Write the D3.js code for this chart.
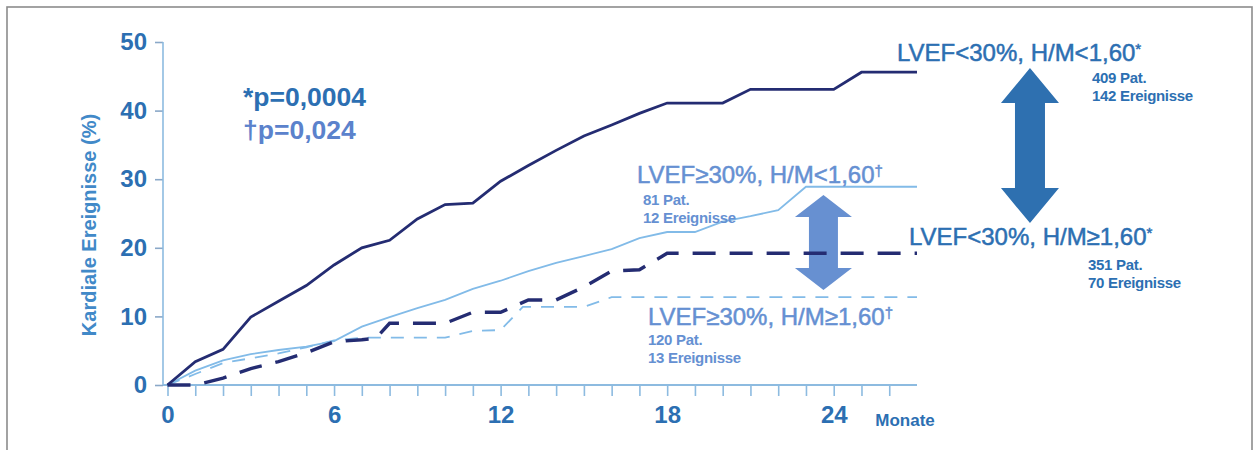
<!DOCTYPE html>
<html>
<head>
<meta charset="utf-8">
<script src="https://cdn.jsdelivr.net/npm/d3@7"></script>
<style>
  html, body { margin: 0; padding: 0; background: #fff; }
  svg { display: block; }
  text { font-family: "Liberation Sans", Arial, sans-serif; }
</style>
</head>
<body>
<svg id="chart" width="1254" height="450"></svg>
<script>
// Cumulative cardiac events (%) by month, per LVEF / H/M group
const months_lowLow   = [0, 1, 2, 3, 4, 5, 6, 7, 8, 9, 10, 11, 12, 13, 14, 15, 16, 17, 18, 20, 21, 24, 25, 27];
const events_lowLow   = [0, 3.4, 5.2, 9.9, 12.2, 14.5, 17.5, 20.0, 21.1, 24.2, 26.3, 26.5, 29.7, 32.0, 34.2, 36.3, 37.9, 39.6, 41.1, 41.1, 43.1, 43.1, 45.6, 45.6];

const months_highLow  = [0, 1, 2, 3, 4, 5, 6, 7, 8, 9, 10, 11, 12, 13, 14, 15, 16, 17, 18, 19, 20, 21, 22, 23, 27];
const events_highLow  = [0, 2.1, 3.6, 4.5, 5.1, 5.6, 6.4, 8.5, 9.9, 11.2, 12.4, 14.0, 15.2, 16.6, 17.8, 18.8, 19.8, 21.4, 22.3, 22.3, 23.8, 24.6, 25.5, 28.9, 28.9];

const months_lowHigh  = [0, 1, 2, 3, 4, 5, 6, 7, 7.5, 8, 10, 11, 12, 13, 14, 15, 16, 17, 18, 27];
const events_lowHigh  = [0, 0, 1.0, 2.4, 3.4, 4.7, 6.3, 6.6, 6.8, 9.0, 9.0, 10.6, 10.6, 12.4, 12.4, 14.3, 16.6, 16.8, 19.2, 19.2];

const months_highHigh = [0, 1, 2, 3, 4, 5, 6, 7, 10, 11, 12, 12.8, 15, 16, 27];
const events_highHigh = [0, 1.6, 3.2, 3.9, 4.6, 5.5, 6.5, 6.9, 6.9, 7.9, 8.0, 11.4, 11.4, 12.8, 12.8];

// Axis ticks
const yTicks = [0, 10, 20, 30, 40, 50];
const xTicks = d3.range(0, 27);
const xLabelled = [0, 6, 12, 18, 24];

// Group labels and counts
const groupNames  = ["LVEF<30%, H/M<1,60", "LVEF≥30%, H/M<1,60", "LVEF<30%, H/M≥1,60", "LVEF≥30%, H/M≥1,60"];
const groupMarks  = ["*", "†", "*", "†"];
const groupPat    = ["409 Pat.", "81 Pat.", "351 Pat.", "120 Pat."];
const groupEvents = ["142 Ereignisse", "12 Ereignisse", "70 Ereignisse", "13 Ereignisse"];
const pValues     = ["*p=0,0004", "†p=0,024"];

const svg = d3.select("#chart");

const x = d3.scaleLinear().domain([0, 27]).range([167.5, 917]);
const y = d3.scaleLinear().domain([0, 50]).range([385, 42]);

const C_TEXT = "#2c6fb2";
const C_TEXT2 = "#6590d2";
const C_AXIS = "#8dbbe0";
const C_NAVY = "#242c72";
const C_LIGHT = "#82bbe8";

// Outer frame
svg.append("rect")
  .attr("x", 7).attr("y", 7).attr("width", 1245).attr("height", 460)
  .attr("fill", "none").attr("stroke", "#8c8c8c").attr("stroke-width", 1.6);

// Y axis
const yAxisX = 163;
const gy = svg.append("g").attr("transform", `translate(${yAxisX},0)`)
  .call(d3.axisLeft(y).tickValues(yTicks).tickSize(8).tickPadding(8).tickSizeOuter(0));
gy.select(".domain").remove();
gy.selectAll(".tick line").attr("stroke", "#8aa8c8").attr("stroke-width", 1.6);
gy.selectAll(".tick text")
  .attr("fill", C_TEXT).attr("font-size", 24).attr("font-weight", "bold")
  .style("font-family", "'Liberation Sans', Arial, sans-serif");
svg.append("line")
  .attr("x1", yAxisX).attr("x2", yAxisX).attr("y1", y(50)).attr("y2", y(0))
  .attr("stroke", C_AXIS).attr("stroke-width", 1.6);

// X axis
const gx = svg.append("g").attr("transform", `translate(0,${y(0)})`)
  .call(d3.axisBottom(x).tickValues(xTicks).tickSize(11).tickPadding(10).tickSizeOuter(0)
    .tickFormat(d => xLabelled.includes(d) ? d : ""));
gx.select(".domain").remove();
gx.selectAll(".tick line").attr("stroke", C_AXIS).attr("stroke-width", 1.6);
gx.selectAll(".tick text")
  .attr("fill", C_TEXT).attr("font-size", 24).attr("font-weight", "bold")
  .style("font-family", "'Liberation Sans', Arial, sans-serif");
svg.append("line")
  .attr("x1", yAxisX).attr("x2", x(27)).attr("y1", y(0)).attr("y2", y(0))
  .attr("stroke", C_AXIS).attr("stroke-width", 1.8);

svg.append("text")
  .attr("x", 905).attr("y", 426).attr("text-anchor", "middle")
  .attr("fill", C_TEXT).attr("font-size", 17).attr("font-weight", "bold")
  .text("Monate");

svg.append("text")
  .attr("transform", "translate(96,225) rotate(-90)")
  .attr("text-anchor", "middle")
  .attr("fill", "#4189c8").attr("font-size", 20).attr("font-weight", "bold")
  .text("Kardiale Ereignisse (%)");

// p-values
svg.append("text").attr("x", 243).attr("y", 106)
  .attr("fill", C_TEXT).attr("font-size", 26.5).attr("font-weight", "bold").text(pValues[0]);
svg.append("text").attr("x", 243).attr("y", 139)
  .attr("fill", "#5b82cc").attr("font-size", 26.5).attr("font-weight", "bold").text(pValues[1]);

// Double-headed arrows between group curves
function doubleArrow(cx, yTop, yBot, headW, headH, shaftW) {
  const p = d3.path();
  p.moveTo(cx, yTop);
  p.lineTo(cx + headW / 2, yTop + headH);
  p.lineTo(cx + shaftW / 2, yTop + headH);
  p.lineTo(cx + shaftW / 2, yBot - headH);
  p.lineTo(cx + headW / 2, yBot - headH);
  p.lineTo(cx, yBot);
  p.lineTo(cx - headW / 2, yBot - headH);
  p.lineTo(cx - shaftW / 2, yBot - headH);
  p.lineTo(cx - shaftW / 2, yTop + headH);
  p.lineTo(cx - headW / 2, yTop + headH);
  p.closePath();
  return p.toString();
}
svg.append("path")
  .attr("d", doubleArrow(x(31.07), y(46.2), y(23.6), 58, 35, 30))
  .attr("fill", "#2e70b0");
svg.append("path")
  .attr("d", doubleArrow(x(23.63), y(27.7), y(13.85), 57, 22, 29))
  .attr("fill", "#5a87cd").attr("opacity", 0.92);

// Curves
const line = d3.line().x(d => x(d[0])).y(d => y(d[1]));
const zip = (a, b) => a.map((m, i) => [m, b[i]]);

svg.append("path").datum(zip(months_highHigh, events_highHigh))
  .attr("d", line).attr("fill", "none")
  .attr("stroke", C_LIGHT).attr("stroke-width", 1.8).attr("stroke-dasharray", "13,10");
svg.append("path").datum(zip(months_highLow, events_highLow))
  .attr("d", line).attr("fill", "none")
  .attr("stroke", C_LIGHT).attr("stroke-width", 1.8);
svg.append("path").datum(zip(months_lowHigh, events_lowHigh))
  .attr("d", line).attr("fill", "none")
  .attr("stroke", C_NAVY).attr("stroke-width", 3.4).attr("stroke-dasharray", "23,14");
svg.append("path").datum(zip(months_lowLow, events_lowLow))
  .attr("d", line).attr("fill", "none")
  .attr("stroke", C_NAVY).attr("stroke-width", 2.8);

// Group labels
const labelPos = [
  { x: 897, y: 61,  sx: 1092, sy: 83,  color: C_TEXT },
  { x: 637, y: 183, sx: 643,  sy: 205, color: C_TEXT2 },
  { x: 909, y: 245, sx: 1088, sy: 270, color: C_TEXT },
  { x: 648, y: 325, sx: 648,  sy: 345, color: C_TEXT2 }
];
groupNames.forEach((name, i) => {
  const p = labelPos[i];
  const t = svg.append("text").attr("x", p.x).attr("y", p.y)
    .attr("fill", p.color).attr("font-size", 24)
    .attr("stroke", p.color).attr("stroke-width", 0.5);
  t.append("tspan").text(name);
  t.append("tspan").attr("font-size", 15).attr("dy", -7).text(groupMarks[i]);
  svg.append("text").attr("x", p.sx).attr("y", p.sy)
    .attr("fill", p.color).attr("font-size", 15).attr("font-weight", "bold")
    .attr("letter-spacing", -0.3)
    .text(groupPat[i]);
  svg.append("text").attr("x", p.sx).attr("y", p.sy + 18)
    .attr("fill", p.color).attr("font-size", 15).attr("font-weight", "bold")
    .attr("letter-spacing", -0.3)
    .text(groupEvents[i]);
});
</script>
</body>
</html>
